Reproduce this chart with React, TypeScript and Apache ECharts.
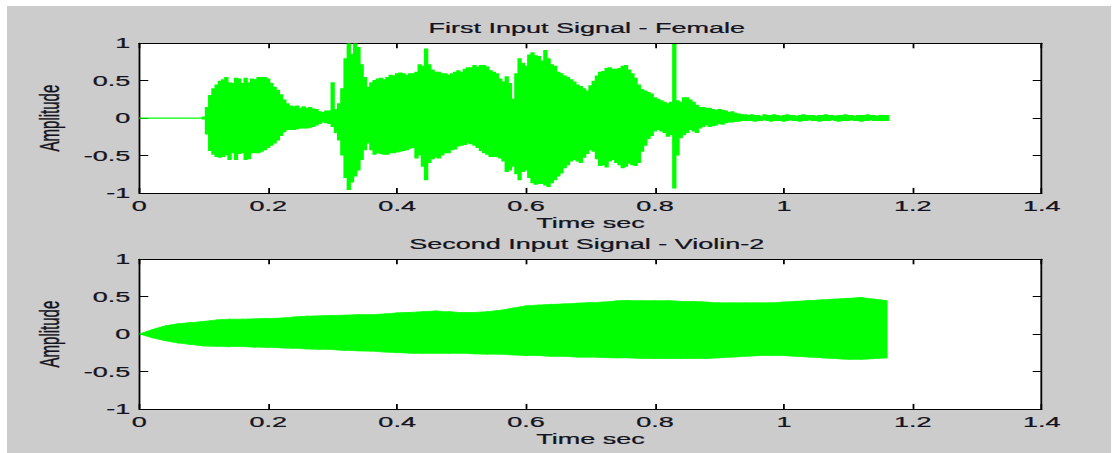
import { useEffect, useRef } from "react";
import * as echarts from "echarts";

// The original figure is a MATLAB plot stretched horizontally; draw at unscaled width and stretch.
const S = 1.8;
const W = 1118 / S;
const H = 453;

const GREEN = "#00ff00";
const TEXT = "#141420";
const FONT = "Liberation Sans, Arial, sans-serif";

const titles = ["First Input Signal - Female", "Second Input Signal - Violin-2"];
const xName = "Time sec";
const yName = "Amplitude";

// Female: silence, then envelope samples every 5 ms from 0.100 s
const femaleSilence = [
  [0, 0],
  [0.1, 0],
];
const FEMALE_T0 = 0.1;
const FEMALE_DT = 0.005;
const femaleUpper = [
  0.02, 0.15, 0.31, 0.4, 0.45, 0.5, 0.52, 0.55, 0.48, 0.47,
  0.54, 0.53, 0.47, 0.54, 0.48, 0.53, 0.52, 0.55, 0.55, 0.55,
  0.53, 0.47, 0.42, 0.38, 0.32, 0.25, 0.2, 0.17, 0.16, 0.17,
  0.14, 0.16, 0.14, 0.15, 0.13, 0.12, 0.09, 0.08, 0.1, 0.1,
  0.48, 0.12, 0.2, 0.4, 0.8, 1.0, 0.86, 1.0, 0.95, 0.72,
  0.55, 0.42, 0.48, 0.51, 0.53, 0.54, 0.52, 0.55, 0.58, 0.57,
  0.6, 0.61, 0.6, 0.58, 0.6, 0.6, 0.62, 0.72, 0.7, 0.93,
  0.72, 0.65, 0.62, 0.62, 0.6, 0.6, 0.58, 0.6, 0.62, 0.64,
  0.62, 0.66, 0.68, 0.68, 0.71, 0.69, 0.71, 0.71, 0.69, 0.64,
  0.62, 0.6, 0.53, 0.49, 0.56, 0.47, 0.26, 0.6, 0.8, 0.74,
  0.7, 0.85, 0.88, 0.84, 0.83, 0.77, 0.91, 0.8, 0.72, 0.7,
  0.62, 0.6, 0.57, 0.55, 0.52, 0.49, 0.45, 0.43, 0.4, 0.37,
  0.44, 0.5, 0.57, 0.62, 0.63, 0.67, 0.68, 0.66, 0.66, 0.67,
  0.7, 0.71, 0.65, 0.6, 0.54, 0.45, 0.39, 0.37, 0.35, 0.33,
  0.28, 0.26, 0.24, 0.22, 0.2, 0.22, 0.99, 0.24, 0.22, 0.28,
  0.28, 0.25, 0.22, 0.18, 0.15, 0.15, 0.14, 0.14, 0.12, 0.11,
  0.12, 0.11, 0.1, 0.08, 0.09, 0.07, 0.06, 0.05, 0.05,
  0.04, 0.05, 0.04, 0.04, 0.03, 0.05, 0.04, 0.04, 0.05, 0.04,
  0.03, 0.04, 0.05, 0.04, 0.04, 0.03, 0.04, 0.05, 0.04, 0.04,
  0.04, 0.03, 0.04, 0.04, 0.05, 0.04, 0.04, 0.03, 0.04, 0.04,
  0.05, 0.04, 0.04, 0.03, 0.04, 0.04, 0.04, 0.05, 0.04, 0.04,
  0.03, 0.04, 0.04, 0.04,
];
const femaleLower = [
  -0.02, -0.22, -0.44, -0.49, -0.52, -0.53, -0.52, -0.5, -0.56, -0.47,
  -0.56, -0.48, -0.47, -0.56, -0.55, -0.47, -0.47, -0.47, -0.45, -0.43,
  -0.4, -0.37, -0.34, -0.3, -0.24, -0.19, -0.16, -0.16, -0.16, -0.15,
  -0.14, -0.14, -0.14, -0.13, -0.12, -0.1, -0.08, -0.06, -0.07, -0.08,
  -0.12, -0.2, -0.3, -0.5, -0.8, -0.96, -0.86, -0.78, -0.7, -0.56,
  -0.43, -0.34, -0.43, -0.49, -0.47, -0.48, -0.49, -0.49, -0.47, -0.47,
  -0.46, -0.45, -0.44, -0.43, -0.41, -0.4, -0.54, -0.5, -0.65, -0.83,
  -0.6, -0.55, -0.53, -0.54, -0.5, -0.47, -0.47, -0.43, -0.42, -0.38,
  -0.37, -0.36, -0.34, -0.35, -0.37, -0.4, -0.44, -0.47, -0.49, -0.52,
  -0.52, -0.52, -0.54, -0.58, -0.72, -0.7, -0.65, -0.75, -0.83, -0.72,
  -0.7, -0.8, -0.87, -0.89, -0.88, -0.88, -0.9, -0.92, -0.87, -0.83,
  -0.78, -0.74, -0.67, -0.63, -0.58, -0.56, -0.58, -0.6, -0.53, -0.48,
  -0.43, -0.45, -0.55, -0.64, -0.63, -0.66, -0.58, -0.56, -0.6, -0.63,
  -0.67, -0.65, -0.61, -0.63, -0.64, -0.6, -0.45, -0.37, -0.28, -0.24,
  -0.18, -0.16, -0.18, -0.2, -0.25, -0.23, -0.94, -0.5, -0.27, -0.23,
  -0.2, -0.16, -0.18, -0.2, -0.14, -0.12, -0.1, -0.12, -0.11, -0.1,
  -0.08, -0.09, -0.07, -0.06, -0.06, -0.05, -0.05, -0.04, -0.04,
  -0.04, -0.04, -0.05, -0.04, -0.04, -0.03, -0.04, -0.05, -0.04, -0.04,
  -0.04, -0.05, -0.04, -0.03, -0.04, -0.04, -0.05, -0.04, -0.04, -0.03,
  -0.04, -0.04, -0.05, -0.04, -0.04, -0.04, -0.03, -0.04, -0.05, -0.04,
  -0.04, -0.04, -0.03, -0.04, -0.04, -0.05, -0.04, -0.04, -0.03, -0.04,
  -0.04, -0.04, -0.04, -0.04,
];

// Violin: envelope samples every 20 ms from 0 s
const VIOLIN_DT = 0.02;
const violinUpper = [
  0, 0.06, 0.11, 0.14, 0.155, 0.17, 0.19, 0.2, 0.2, 0.205,
  0.21, 0.215, 0.23, 0.24, 0.245, 0.25, 0.255, 0.26, 0.26, 0.27,
  0.285, 0.29, 0.3, 0.31, 0.3, 0.29, 0.29, 0.3, 0.32, 0.35,
  0.38, 0.39, 0.4, 0.405, 0.415, 0.42, 0.43, 0.445, 0.45, 0.45,
  0.45, 0.45, 0.44, 0.44, 0.43, 0.42, 0.42, 0.42, 0.42, 0.42,
  0.43, 0.44, 0.45, 0.46, 0.47, 0.48, 0.49, 0.47, 0.45,
];
const violinLower = [
  0, -0.05, -0.09, -0.12, -0.14, -0.16, -0.165, -0.17, -0.17, -0.175,
  -0.18, -0.185, -0.19, -0.2, -0.205, -0.21, -0.22, -0.225, -0.23, -0.24,
  -0.25, -0.255, -0.26, -0.26, -0.26, -0.26, -0.265, -0.27, -0.27, -0.28,
  -0.29, -0.29, -0.3, -0.3, -0.31, -0.31, -0.315, -0.32, -0.32, -0.325,
  -0.33, -0.33, -0.33, -0.33, -0.325, -0.32, -0.31, -0.3, -0.29, -0.29,
  -0.29, -0.3, -0.31, -0.32, -0.33, -0.34, -0.34, -0.33, -0.32,
];

const X_MIN = 0;
const X_MAX = 1.4;
const X_STEP = 0.2;
const Y_MIN = -1;
const Y_MAX = 1;
const Y_STEP = 0.5;

const GRID_LEFT = 139.3 / S;
const GRID_W = (1041.7 - 139.3) / S;
const gridTops = [43.3, 259.3];
const GRID_H = 149.6;

export default function App() {
  const ref = useRef<HTMLDivElement>(null);

  useEffect(() => {
    if (!ref.current) return;
    const chart = echarts.init(ref.current, undefined, { renderer: "svg" });

    const femaleData = femaleUpper.map((u, i) => [
      +(FEMALE_T0 + i * FEMALE_DT).toFixed(3),
      femaleLower[i],
      u,
    ]);
    const violinData: number[][] = [];
    for (let i = 0; i < violinUpper.length - 1; i++) {
      violinData.push([
        +(i * VIOLIN_DT).toFixed(3),
        violinLower[i],
        violinUpper[i],
        +((i + 1) * VIOLIN_DT).toFixed(3),
        violinLower[i + 1],
        violinUpper[i + 1],
      ]);
    }

    const textStyle = {
      color: TEXT,
      fontSize: 15,
      fontFamily: FONT,
      fontWeight: "normal" as const,
      textBorderColor: TEXT,
      textBorderWidth: 0.25,
    };
    const fmt = (v: number) => String(+Number(v).toFixed(1));

    const xAxes: any[] = [];
    const yAxes: any[] = [];
    [0, 1].forEach((g) => {
      xAxes.push({
        type: "value",
        gridIndex: g,
        position: "bottom",
        min: X_MIN,
        max: X_MAX,
        interval: X_STEP,
        name: xName,
        nameLocation: "middle",
        nameGap: 22,
        nameTextStyle: textStyle,
        axisLine: { show: true, onZero: false, lineStyle: { color: "#000", width: 1 } },
        axisTick: { show: true, inside: true, length: 5, lineStyle: { color: "#000", width: 1 } },
        axisLabel: { ...textStyle, margin: 5, formatter: fmt },
        splitLine: { show: false },
      });
      xAxes.push({
        type: "value",
        gridIndex: g,
        position: "top",
        min: X_MIN,
        max: X_MAX,
        interval: X_STEP,
        axisLine: { show: true, onZero: false, lineStyle: { color: "#000", width: 1 } },
        axisTick: { show: true, inside: true, length: 5, lineStyle: { color: "#000", width: 1 } },
        axisLabel: { show: false },
        splitLine: { show: false },
      });
      yAxes.push({
        type: "value",
        gridIndex: g,
        position: "left",
        min: Y_MIN,
        max: Y_MAX,
        interval: Y_STEP,
        name: yName,
        nameLocation: "middle",
        nameRotate: 90,
        nameGap: 42,
        nameTextStyle: textStyle,
        axisLine: { show: true, onZero: false, lineStyle: { color: "#000", width: 1 } },
        axisTick: { show: true, inside: true, length: 5, lineStyle: { color: "#000", width: 1 } },
        axisLabel: { ...textStyle, margin: 5, formatter: fmt },
        splitLine: { show: false },
      });
      yAxes.push({
        type: "value",
        gridIndex: g,
        position: "right",
        min: Y_MIN,
        max: Y_MAX,
        interval: Y_STEP,
        axisLine: { show: true, onZero: false, lineStyle: { color: "#000", width: 1 } },
        axisTick: { show: true, inside: true, length: 5, lineStyle: { color: "#000", width: 1 } },
        axisLabel: { show: false },
        splitLine: { show: false },
      });
    });

    chart.setOption({
      animation: false,
      backgroundColor: "#ffffff",
      graphic: [
        {
          type: "rect",
          z: -10,
          silent: true,
          shape: { x: 7 / S, y: 6, width: (1111 - 7) / S, height: H - 6 },
          style: { fill: "#cccccc" },
        },
      ],
      title: [
        {
          text: titles[0],
          left: 326,
          top: 20,
          padding: 0,
          textAlign: "center",
          textStyle,
        },
        {
          text: titles[1],
          left: 326,
          top: 236,
          padding: 0,
          textAlign: "center",
          textStyle,
        },
      ],
      grid: gridTops.map((t) => ({
        left: GRID_LEFT,
        top: t,
        width: GRID_W,
        height: GRID_H,
        show: true,
        backgroundColor: "#ffffff",
        borderWidth: 0,
        containLabel: false,
      })),
      xAxis: xAxes,
      yAxis: yAxes,
      series: [
        {
          type: "line",
          xAxisIndex: 0,
          yAxisIndex: 0,
          data: femaleSilence,
          symbol: "none",
          lineStyle: { color: GREEN, width: 1.2 },
        },
        {
          type: "custom",
          xAxisIndex: 0,
          yAxisIndex: 0,
          clip: true,
          data: femaleData,
          encode: { x: 0, y: [1, 2] },
          renderItem: (_p: any, api: any) => {
            const t = api.value(0);
            const lo = api.value(1);
            const hi = api.value(2);
            const a = api.coord([t - FEMALE_DT / 2, hi]);
            const b = api.coord([t + FEMALE_DT / 2, lo]);
            return {
              type: "rect",
              shape: {
                x: a[0] - 0.3,
                y: a[1],
                width: b[0] - a[0] + 0.6,
                height: Math.max(b[1] - a[1], 1.2),
              },
              style: { fill: GREEN },
            };
          },
        },
        {
          type: "custom",
          xAxisIndex: 2,
          yAxisIndex: 2,
          clip: true,
          data: violinData,
          encode: { x: [0, 3], y: [1, 2, 4, 5] },
          renderItem: (_p: any, api: any) => {
            const pts = [
              api.coord([api.value(0), api.value(2)]),
              api.coord([api.value(3), api.value(5)]),
              api.coord([api.value(3), api.value(4)]),
              api.coord([api.value(0), api.value(1)]),
            ];
            return {
              type: "polygon",
              shape: { points: pts },
              style: { fill: GREEN, stroke: GREEN, lineWidth: 0.6 },
            };
          },
        },
      ],
    });

    return () => chart.dispose();
  }, []);

  return (
    <div
      ref={ref}
      style={{
        position: "fixed",
        left: 0,
        top: 0,
        width: W,
        height: H,
        transform: `scaleX(${S})`,
        transformOrigin: "0 0",
      }}
    />
  );
}
